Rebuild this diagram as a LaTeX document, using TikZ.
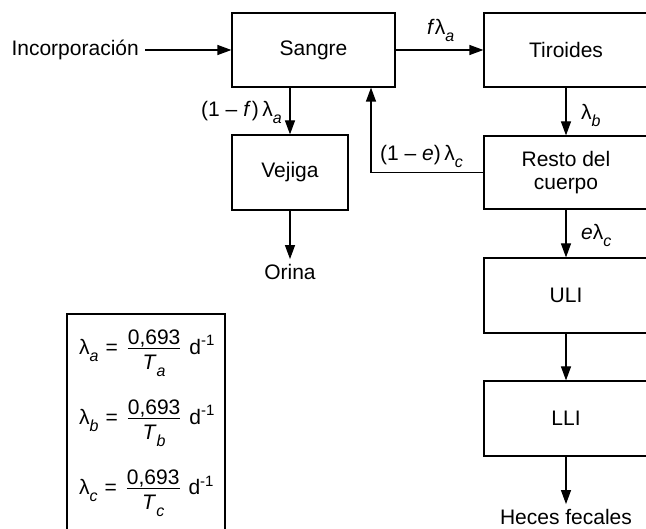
\documentclass[tikz,border=0pt]{standalone}
\usepackage{fontspec}
\setmainfont{Liberation Sans}
\usetikzlibrary{arrows.meta}
\newcommand\sbs[1]{\raisebox{-7pt}{\fontsize{16}{16}\selectfont\itshape #1}}
\newcommand\sps[1]{\raisebox{9pt}{\fontsize{15}{15}\selectfont #1}}
\newsavebox\fracbox
\newcommand\myfrac[2]{\sbox\fracbox{#1}\rlap{\raisebox{10.5pt}{\makebox[\wd\fracbox]{#1}}}\rlap{\rule[6pt]{\wd\fracbox}{1.1pt}}\raisebox{-15pt}{\makebox[\wd\fracbox]{#2}}}
\begin{document}
\begin{tikzpicture}[x=1pt,y=-1pt,
  every node/.style={font=\fontsize{21}{23}\selectfont},
  box/.style={draw, line width=1.2pt, inner sep=0pt, align=center},
  arr/.style={line width=1.2pt, -{Triangle[length=14pt,width=10pt]}},
  lbl/.style={inner sep=0pt},
  ends/.style={inner sep=5pt}]
\useasboundingbox (0,0) rectangle (646,529);
\clip (0,0) rectangle (646,529);
% boxes
\node[box, minimum width=163pt, minimum height=74pt] (sangre) at (313.5,50) {Sangre};
\node[box, minimum width=164pt, minimum height=74pt] (tiro) at (566,50) {Tiroides};
\node[box, minimum width=116pt, minimum height=75pt] (vej) at (290,172.5) {Vejiga};
\node[box, minimum width=164pt, minimum height=73pt] (resto) at (566,172.5) {Resto del\\cuerpo};
\node[box, minimum width=164pt, minimum height=75pt] (uli) at (566,295.5) {ULI};
\node[box, minimum width=164pt, minimum height=75pt] (lli) at (566,418.5) {LLI};
% end texts
\node[ends, anchor=east, inner sep=6pt] (inc) at (145,50) {Incorporación};
\node[ends] (orina) at (290,272) {Orina};
\node[ends] (heces) at (566,517) {Heces fecales};
% connectors
\draw[arr] (inc.east) -- (sangre.west);
\draw[arr] (sangre.east) -- (tiro.west);
\draw[arr] (sangre.south -| vej.north) -- (vej.north);
\draw[arr] (vej.south) -- (orina.north);
\draw[arr] (tiro.south) -- (resto.north);
\coordinate (fb) at (371,172.5);
\draw[arr] (resto.west) -- (fb) -- (fb |- sangre.south);
\draw[arr] (resto.south) -- (uli.north);
\draw[arr] (uli.south) -- (lli.north);
\draw[arr] (lli.south) -- (heces.north);
% labels
\node[lbl, anchor=base west] (l1) at (427,35) {\textit{f}λ\sbs{a}};
\node[lbl, anchor=base east] (l2) at (282,117) {(1 – \textit{f}\kern1pt)\,λ\sbs{a}};
\node[lbl, anchor=base west] (l3) at (581,120) {λ\sbs{b}};
\node[lbl, anchor=base west] (l4) at (380,161) {(1 – \textit{e})\,λ\sbs{c}};
\node[lbl, anchor=base west] (l5) at (581,240) {\textit{e}λ\sbs{c}};
% formula box
\node[draw, line width=1.2pt, minimum width=158pt, minimum height=225pt, inner sep=0pt] (fbox) at (146,426.5) {};
\node[lbl, anchor=base west] (fa) at (79,355) {λ\sbs{a}\hspace{7pt}=\hspace{10pt}\myfrac{0,693}{\textit{T}\sbs{a}}\hspace{9pt}d\sps{-1}};
\node[lbl, anchor=base west] (fb2) at (79,425) {λ\sbs{b}\hspace{7pt}=\hspace{10pt}\myfrac{0,693}{\textit{T}\sbs{b}}\hspace{9pt}d\sps{-1}};
\node[lbl, anchor=base west] (fc) at (79,495) {λ\sbs{c}\hspace{7pt}=\hspace{10pt}\myfrac{0,693}{\textit{T}\sbs{c}}\hspace{9pt}d\sps{-1}};
\end{tikzpicture}
\end{document}
